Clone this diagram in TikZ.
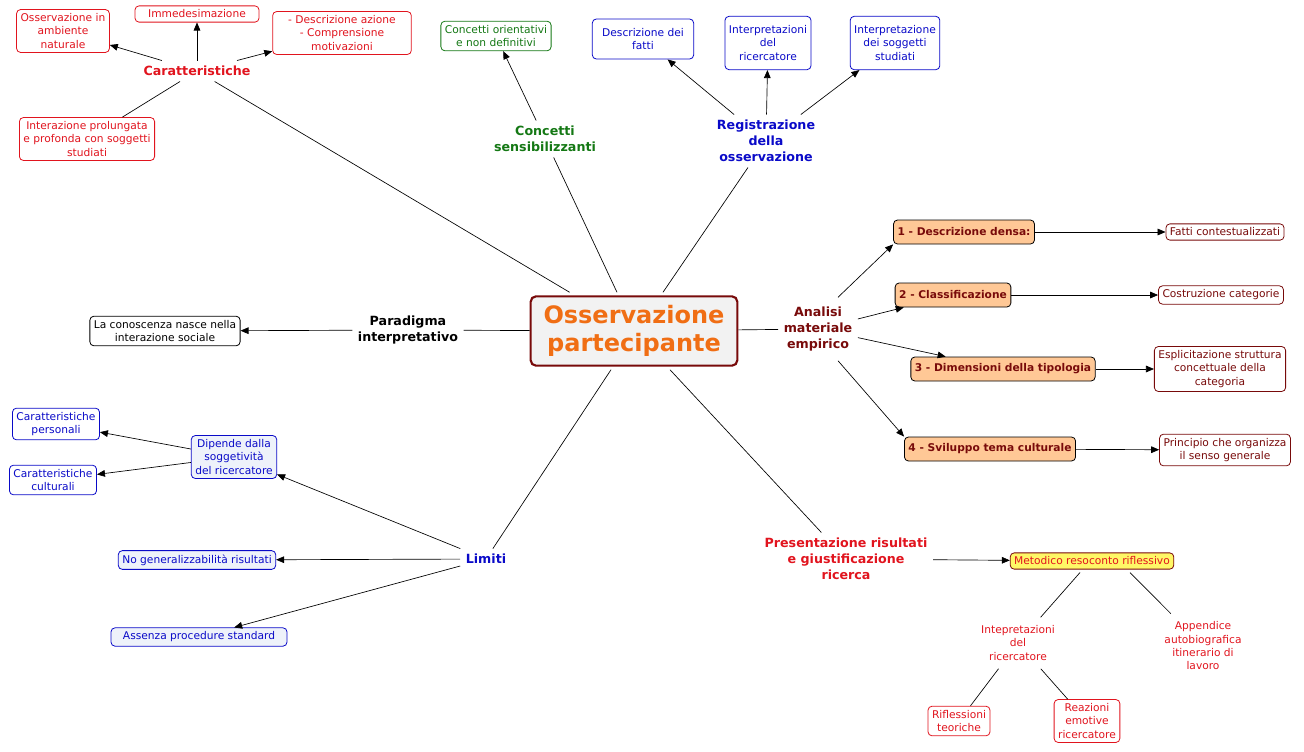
\documentclass[tikz,border=0pt]{standalone}
\usepackage{fontspec}
\setmainfont{DejaVu Sans}
\usetikzlibrary{arrows.meta}
\definecolor{cred}{RGB}{225,20,30}
\definecolor{cgreen}{RGB}{20,120,20}
\definecolor{cblue}{RGB}{10,10,200}
\definecolor{cdred}{RGB}{120,10,10}
\definecolor{corange}{RGB}{255,200,150}
\definecolor{ctitle}{RGB}{240,110,20}
\definecolor{cbluefill}{RGB}{238,242,250}
\begin{document}
\begin{tikzpicture}[x=0.75pt,y=-0.75pt,
  every node/.style={font=\fontsize{8}{10}\selectfont, align=center},
  box/.style={draw, rounded corners=3pt, inner sep=3pt, fill=white, line width=0.6pt},
  lbl/.style={font=\fontsize{9.5}{12}\selectfont\bfseries, inner sep=4pt},
  arr/.style={-{Triangle[length=6pt,width=5pt]}, line width=0.5pt},
  ln/.style={line width=0.5pt},
  rbox/.style={box, draw=cred, text=cred},
  bbox/.style={box, draw=cblue, text=cblue},
  lbbox/.style={bbox, fill=cbluefill},
  obox/.style={box, draw=black, fill=corange, text=cdred, font=\fontsize{8}{10}\selectfont\bfseries, minimum height=18pt},
  dbox/.style={box, draw=cdred, text=cdred}]
\useasboundingbox (0,0) rectangle (1304,751);
% central
\node[draw=cdred, line width=1.6pt, rounded corners=4pt, fill=gray!10, minimum width=155pt, minimum height=52pt,
  font=\fontsize{18}{21}\selectfont\bfseries, text=ctitle] (c) at (634,331) {Osservazione\\partecipante};
% Caratteristiche
\node[lbl, text=cred] (car) at (197,71) {Caratteristiche};
\node[rbox] (c1) at (63,31) {Osservazione in\\ambiente\\naturale};
\node[rbox, minimum width=93pt] (c2) at (197,14) {Immedesimazione};
\node[rbox, minimum width=104pt] (c3) at (342,33) {- Descrizione azione\\- Comprensione\\motivazioni};
\node[rbox] (c4) at (87,139) {Interazione prolungata\\e profonda con soggetti\\studiati};
\draw[arr] (car) -- (c1);
\draw[arr] (car) -- (c2);
\draw[arr] (car) -- (c3);
\draw[ln] (car) -- (c4);
\draw[ln] (c.north west) ++(40,-3) coordinate (k1);
\draw[ln] (k1) -- (car);
% Concetti
\node[lbl, text=cgreen] (con) at (545,139) {Concetti\\sensibilizzanti};
\node[box, draw=cgreen, text=cgreen] (con1) at (496,36) {Concetti orientativi\\e non definitivi};
\draw[arr] (con) -- (con1);
\draw[ln] (c.north) ++(-17,-3) coordinate (k2);
\draw[ln] (k2) -- (con);
% Registrazione
\node[lbl, text=cblue] (reg) at (766,141) {Registrazione\\della\\osservazione};
\node[bbox, minimum width=76pt, minimum height=30pt] (r1) at (643,39) {Descrizione dei\\fatti};
\node[bbox, minimum height=40pt] (r2) at (768,43) {Interpretazioni\\del\\ricercatore};
\node[bbox, minimum height=40pt] (r3) at (895,43) {Interpretazione\\dei soggetti\\studiati};
\draw[arr] (reg) -- (r1);
\draw[arr] (reg) -- (r2);
\draw[arr] (reg) -- (r3);
\draw[ln] (c.north) ++(29,-3) coordinate (k3);
\draw[ln] (k3) -- (reg);
% Paradigma
\node[lbl, text=black] (par) at (408,330) {Paradigma\\interpretativo};
\node[box, draw=black] (p1) at (165,331) {La conoscenza nasce nella\\interazione sociale};
\draw[arr] (par) -- (p1);
\draw[ln] (c) -- (par);
% Analisi
\node[lbl, text=cdred] (an) at (818,329) {Analisi\\materiale\\empirico};
\draw[ln] (c) -- (an);
\node[obox] (a1) at (964,232) {1 - Descrizione densa:};
\node[obox] (a2) at (953,295) {2 - Classificazione};
\node[obox] (a3) at (1003,369) {3 - Dimensioni della tipologia};
\node[obox] (a4) at (990,449) {4 - Sviluppo tema culturale};
\draw[arr] (an.north) ++(20,-4) -- (a1.south west);
\draw[arr] (an) -- (a2);
\draw[arr] (an) -- (a3);
\draw[arr] (an.south) ++(20,4) -- (a4.north west);
\node[dbox] (b1) at (1225,232) {Fatti contestualizzati};
\node[dbox] (b2) at (1221,295) {Costruzione categorie};
\node[dbox] (b3) at (1220,369) {Esplicitazione struttura\\concettuale della\\categoria};
\node[dbox] (b4) at (1225,450) {Principio che organizza\\il senso generale};
\draw[arr] (a1) -- (b1);
\draw[arr] (a2) -- (b2);
\draw[arr] (a3) -- (b3);
\draw[arr] (a4) -- (b4);
% Presentazione
\node[lbl, text=cred] (pr) at (846,559) {Presentazione risultati\\e giustificazione\\ricerca};
\draw[ln] (c.south) ++(36,3) coordinate (k4);
\draw[ln] (k4) -- (pr);
\node[box, draw=cdred, fill=yellow!60, text=cred] (m) at (1092,561) {Metodico resoconto riflessivo};
\draw[arr] (pr) -- (m);
\node[text=cred, inner sep=6pt] (ip) at (1018,643) {Intepretazioni\\del\\ricercatore};
\node[text=cred, inner sep=6pt] (ap) at (1203,646) {Appendice\\autobiografica\\itinerario di\\lavoro};
\draw[ln] (m.south) ++(-12,3) coordinate (k5);
\draw[ln] (k5) -- (ip);
\draw[ln] (m.south) ++(38,3) coordinate (k6);
\draw[ln] (k6) -- (ap);
\node[rbox] (rt) at (959,721) {Riflessioni\\teoriche};
\node[rbox] (re) at (1087,721) {Reazioni\\emotive\\ricercatore};
\draw[ln] (ip) -- (rt);
\draw[ln] (ip) -- (re);
% Limiti
\node[lbl, text=cblue] (lim) at (486,559) {Limiti};
\draw[ln] (c.south) ++(-23,3) coordinate (k7);
\draw[ln] (k7) -- (lim);
\node[lbbox] (l1) at (234,457) {Dipende dalla\\soggetività\\del ricercatore};
\node[lbbox] (l2) at (197,560) {No generalizzabilità risultati};
\node[lbbox, minimum width=132pt] (l3) at (199,637) {Assenza procedure standard};
\node[bbox] (l4) at (56,424) {Caratteristiche\\personali};
\node[bbox] (l5) at (53,480) {Caratteristiche\\culturali};
\draw[arr] (lim) -- (l1);
\draw[arr] (lim) -- (l2);
\draw[arr] (lim) -- (l3);
\draw[arr] (l1) -- (l4);
\draw[arr] (l1) -- (l5);
\end{tikzpicture}
\end{document}
